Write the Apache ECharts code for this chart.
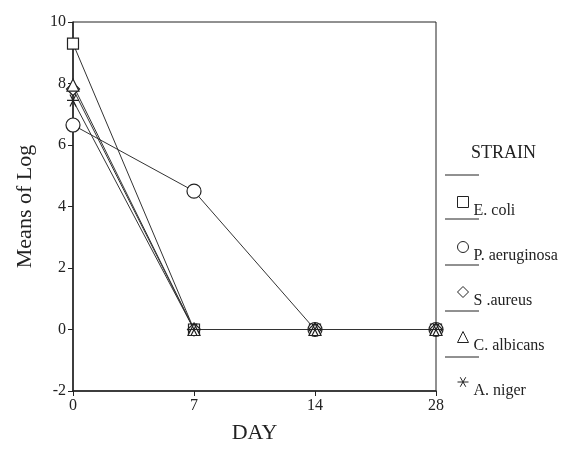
<!DOCTYPE html>
<html><head><meta charset="utf-8">
<script src="https://cdn.jsdelivr.net/npm/echarts@6/dist/echarts.min.js"></script>
<style>html,body{margin:0;padding:0;background:#fff}#c{width:561px;height:466px}</style>
</head><body><div id="c"></div>
<script>
const days = ['0', '7', '14', '28'];
const ecoli = [9.3, 0, 0, 0];
const paeruginosa = [6.65, 4.5, 0, 0];
const saureus = [7.82, 0, 0, 0];
const calbicans = [7.95, 0, 0, 0];
const aniger = [7.45, 0, 0, 0];
const yTicks = [-2, 0, 2, 4, 6, 8, 10];

const FONT = '"Liberation Serif", "DejaVu Serif", serif';
const asterisk = 'path://M-1,0L1,0M-0.5,-0.866L0.5,0.866M-0.5,0.866L0.5,-0.866';
const strains = [
  {name: 'E. coli', data: ecoli, symbol: 'rect', size: 11},
  {name: 'P. aeruginosa', data: paeruginosa, symbol: 'circle', size: 14},
  {name: 'S .aureus', data: saureus, symbol: 'diamond', size: 13},
  {name: 'C. albicans', data: calbicans, symbol: 'triangle', size: 12},
  {name: 'A. niger', data: aniger, symbol: asterisk, size: 12}
];

const chart = echarts.init(document.getElementById('c'), null, {renderer: 'canvas'});
const sepY = [175, 219, 265, 311, 357];
chart.setOption({
  animation: false,
  backgroundColor: '#fff',
  textStyle: {fontFamily: FONT},
  grid: {left: 73, right: 125, top: 22, bottom: 75, show: true, borderColor: '#222', borderWidth: 1},
  xAxis: {
    type: 'category', data: days, boundaryGap: false,
    axisLine: {onZero: false, lineStyle: {color: '#222', width: 1.5}},
    axisTick: {length: 5, lineStyle: {color: '#222'}},
    axisLabel: {color: '#222', fontSize: 16, fontFamily: FONT, margin: 7},
    name: 'DAY', nameLocation: 'middle', nameGap: 31,
    nameTextStyle: {fontSize: 22, color: '#222', fontFamily: FONT},
    splitLine: {show: false}
  },
  yAxis: {
    type: 'value', min: -2, max: 10, interval: 2,
    axisLine: {show: true, lineStyle: {color: '#222', width: 1.5}},
    axisTick: {show: true, length: 5, lineStyle: {color: '#222'}},
    axisLabel: {color: '#222', fontSize: 16, fontFamily: FONT, margin: 7,
      formatter: v => yTicks.includes(v) ? String(v) : ''},
    name: 'Means of Log', nameLocation: 'middle', nameGap: 37,
    nameTextStyle: {fontSize: 22, color: '#222', fontFamily: FONT},
    splitLine: {show: false}
  },
  legend: {
    orient: 'vertical', left: 452, top: 179, itemWidth: 11, itemHeight: 11, itemGap: 9,
    formatter: n => '\n' + n,
    textStyle: {fontSize: 16, color: '#222', fontFamily: FONT, lineHeight: 18},
    data: strains.map(s => ({name: s.name, icon: s.symbol,
      itemStyle: {color: '#fff', borderColor: '#222', borderWidth: 1}}))
  },
  graphic: [
    {type: 'text', left: 471, top: 144, style: {text: 'STRAIN', fontSize: 18, fill: '#222', fontFamily: FONT}}
  ].concat(sepY.map(y => ({type: 'line', shape: {x1: 445, y1: y, x2: 479, y2: y}, style: {stroke: '#222', lineWidth: 1}}))),
  series: strains.map(s => ({
    name: s.name, type: 'line', data: s.data,
    symbol: s.symbol, symbolSize: s.size, showAllSymbol: true,
    lineStyle: {color: '#333', width: 1},
    itemStyle: {color: '#fff', borderColor: '#222', borderWidth: 1.2},
    z: 3
  }))
});
</script></body></html>
